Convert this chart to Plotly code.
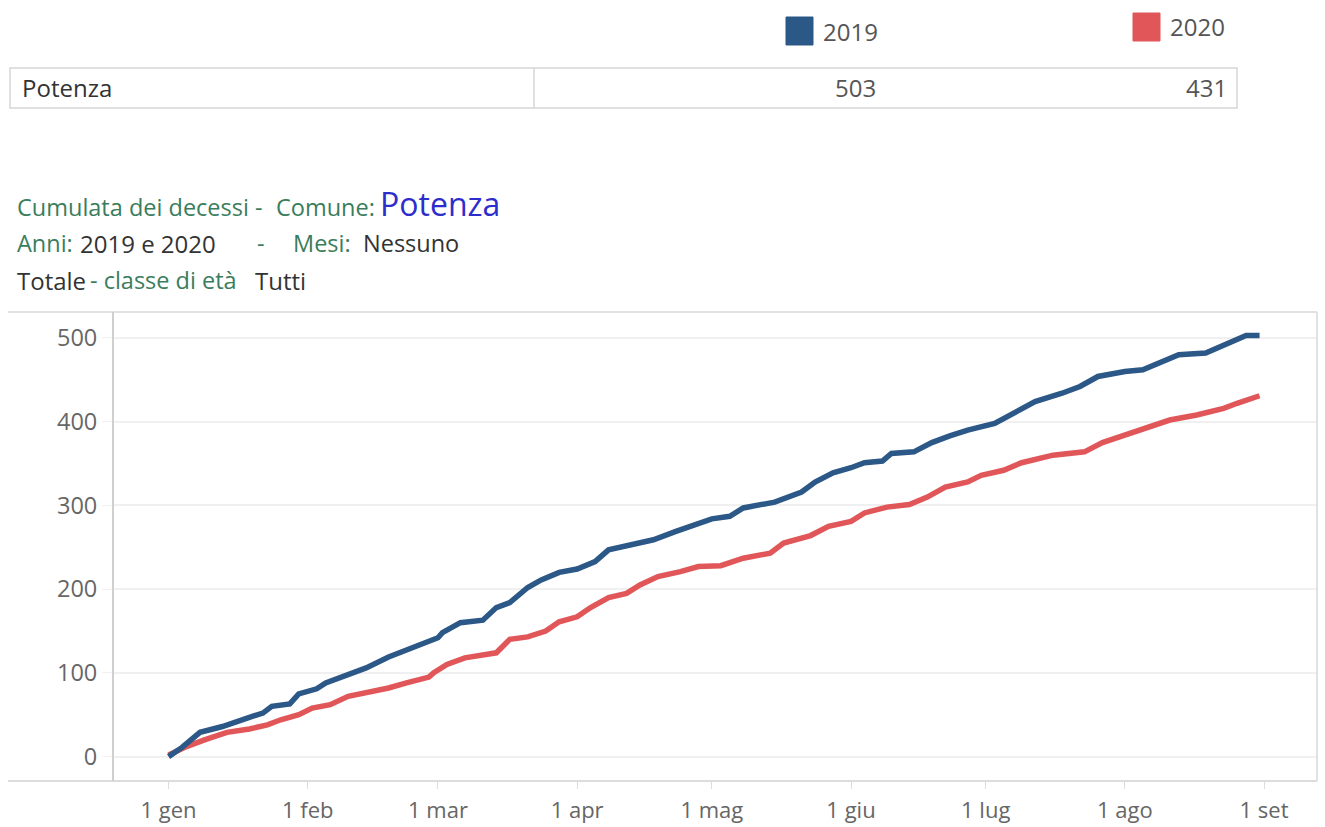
import plotly.graph_objects as go

# Cumulata dei decessi - Comune di Potenza (2019 vs 2020)
# asse x: giorno dell'anno, entrambe le serie sul calendario 2020
giorni_2019 = ["2020-01-01", "2020-01-04", "2020-01-08", "2020-01-13", "2020-01-19", "2020-01-22",
               "2020-01-24", "2020-01-28", "2020-01-30", "2020-02-03", "2020-02-05", "2020-02-10",
               "2020-02-14", "2020-02-19", "2020-02-23", "2020-02-27", "2020-03-01", "2020-03-02",
               "2020-03-06", "2020-03-11", "2020-03-14", "2020-03-17", "2020-03-21", "2020-03-24",
               "2020-03-28", "2020-04-01", "2020-04-05", "2020-04-08", "2020-04-12", "2020-04-18",
               "2020-04-23", "2020-04-27", "2020-05-01", "2020-05-05", "2020-05-08", "2020-05-15",
               "2020-05-21", "2020-05-24", "2020-05-28", "2020-06-01", "2020-06-04", "2020-06-08",
               "2020-06-10", "2020-06-15", "2020-06-19", "2020-06-23", "2020-06-27", "2020-07-03",
               "2020-07-08", "2020-07-12", "2020-07-18", "2020-07-22", "2020-07-26", "2020-08-01",
               "2020-08-05", "2020-08-09", "2020-08-13", "2020-08-19", "2020-08-24", "2020-08-28",
               "2020-08-31"]
decessi_2019 = [0, 11, 29, 36, 47, 52,
                60, 63, 75, 81, 88, 98,
                106, 119, 128, 136, 142, 148,
                160, 163, 178, 184, 202, 211,
                220, 224, 233, 247, 252, 259,
                269, 276, 284, 287, 297, 304,
                316, 328, 339, 345, 351, 353,
                362, 364, 375, 383, 390, 398,
                412, 424, 434, 442, 454, 460,
                462, 471, 480, 482, 494, 503,
                503]

giorni_2020 = ["2020-01-01", "2020-01-05", "2020-01-09", "2020-01-14", "2020-01-19", "2020-01-23",
               "2020-01-26", "2020-01-30", "2020-02-02", "2020-02-06", "2020-02-10", "2020-02-14",
               "2020-02-19", "2020-02-23", "2020-02-28", "2020-02-29", "2020-03-03", "2020-03-07",
               "2020-03-14", "2020-03-17", "2020-03-21", "2020-03-25", "2020-03-28", "2020-04-01",
               "2020-04-04", "2020-04-08", "2020-04-12", "2020-04-15", "2020-04-19", "2020-04-24",
               "2020-04-28", "2020-05-03", "2020-05-08", "2020-05-14", "2020-05-17", "2020-05-23",
               "2020-05-27", "2020-06-01", "2020-06-04", "2020-06-09", "2020-06-14", "2020-06-18",
               "2020-06-22", "2020-06-27", "2020-06-30", "2020-07-05", "2020-07-09", "2020-07-16",
               "2020-07-23", "2020-07-27", "2020-08-01", "2020-08-05", "2020-08-11", "2020-08-17",
               "2020-08-23", "2020-08-26", "2020-08-31"]
decessi_2020 = [2, 12, 20, 29, 33, 38,
                44, 50, 58, 62, 72, 76,
                82, 88, 95, 100, 110, 118,
                124, 140, 143, 150, 161, 167,
                178, 190, 195, 205, 215, 221,
                227, 228, 237, 243, 255, 264,
                275, 281, 291, 298, 301, 310,
                322, 328, 336, 342, 351, 360,
                364, 375, 384, 390, 402, 408,
                416, 422, 431]

anni = ["2019", "2020"]
totali = [503, 431]
comune = "Potenza"

tick_date = ["2020-01-01", "2020-02-01", "2020-03-01", "2020-04-01", "2020-05-01",
             "2020-06-01", "2020-07-01", "2020-08-01", "2020-09-01"]
tick_mesi = ["1 gen", "1 feb", "1 mar", "1 apr", "1 mag", "1 giu", "1 lug", "1 ago", "1 set"]
tick_y = [0, 100, 200, 300, 400, 500]

BLU = "#2b5886"
ROSSO = "#e15759"
VERDE = "#3a7d5d"
GRIGIO = "#666666"
SCURO = "#333333"
FONT = "Open Sans"

# area del grafico in pixel
W, H = 1325, 827
L, R, T, B = 113, 1317, 312, 781


def px(x):
    return (x - L) / (R - L)


def py(y):
    return (B - y) / (B - T)


fig = go.Figure()

fig.add_trace(go.Scatter(x=giorni_2020, y=decessi_2020, mode="lines", name=anni[1],
                         line=dict(color=ROSSO, width=5.5), showlegend=False))
fig.add_trace(go.Scatter(x=giorni_2019, y=decessi_2019, mode="lines", name=anni[0],
                         line=dict(color=BLU, width=5.5), showlegend=False))

shapes = []
# bordi area grafico
shapes.append(dict(type="line", xref="paper", yref="paper", x0=px(8), x1=px(R), y0=py(T), y1=py(T),
                   line=dict(color="#d9d9d9", width=1.5)))
shapes.append(dict(type="line", xref="paper", yref="paper", x0=px(R), x1=px(R), y0=py(T), y1=py(B),
                   line=dict(color="#d9d9d9", width=1.5)))
shapes.append(dict(type="line", xref="paper", yref="paper", x0=px(8), x1=px(R), y0=py(B), y1=py(B),
                   line=dict(color="#d0d0d0", width=1.5)))
shapes.append(dict(type="line", xref="paper", yref="paper", x0=px(L), x1=px(L), y0=py(T), y1=py(B),
                   line=dict(color="#cfcfcf", width=2)))
# linea dello zero tratteggiata
shapes.append(dict(type="line", xref="paper", yref="y", x0=0, x1=1, y0=0, y1=0, layer="below",
                   line=dict(color="#b5b5b5", width=1, dash="dot")))
# tabella totali
shapes.append(dict(type="rect", xref="paper", yref="paper", x0=px(10), x1=px(1237), y0=py(68), y1=py(108),
                   line=dict(color="#d6d6d6", width=1.5)))
shapes.append(dict(type="line", xref="paper", yref="paper", x0=px(534), x1=px(534), y0=py(68), y1=py(108),
                   line=dict(color="#d6d6d6", width=1.5)))
# legenda
shapes.append(dict(type="rect", xref="paper", yref="paper", x0=px(786), x1=px(813), y0=py(17), y1=py(45),
                   line=dict(color=BLU, width=1), fillcolor=BLU))
shapes.append(dict(type="rect", xref="paper", yref="paper", x0=px(1133), x1=px(1160), y0=py(13), y1=py(41),
                   line=dict(color=ROSSO, width=1), fillcolor=ROSSO))

annotations = []


def testo(x, y, t, size=23.5, color=SCURO, xanchor="left"):
    annotations.append(dict(x=px(x), y=py(y), xref="paper", yref="paper", text=t, showarrow=False,
                            xanchor=xanchor, yanchor="middle", font=dict(family=FONT, size=size, color=color)))


# legenda e tabella
testo(821, 31, anni[0], size=24, color="#555555")
testo(1168, 27, anni[1], size=24, color="#555555")
testo(20, 88, comune, size=24, color=SCURO)
testo(878, 88, str(totali[0]), size=24, color="#555555", xanchor="right")
testo(1229, 88, str(totali[1]), size=24, color="#555555", xanchor="right")

# titolo su tre righe
testo(15, 207, "Cumulata dei decessi -", color=VERDE)
testo(274, 207, "Comune:", color=VERDE)
testo(378, 203, comune, size=32, color="#2d2dcc")
testo(15, 243, "Anni:", color=VERDE)
testo(78, 243, "2019 e 2020", size=24, color=SCURO)
testo(255, 243, "-", color=VERDE)
testo(291, 243, "Mesi:", color=VERDE)
testo(361, 243, "Nessuno", color=SCURO)
testo(15, 280, "Totale", size=24, color=SCURO)
testo(88, 280, "- classe di età", color=VERDE)
testo(253, 280, "Tutti", size=24, color=SCURO)

fig.update_layout(
    width=W, height=H,
    margin=dict(l=L, r=W - R, t=T, b=H - B, pad=0),
    plot_bgcolor="white", paper_bgcolor="white",
    font=dict(family=FONT, size=22, color=GRIGIO),
    shapes=shapes,
    annotations=annotations,
    showlegend=False,
    xaxis=dict(
        type="date",
        range=["2019-12-19 15:00", "2020-09-12 19:00"],
        tickvals=tick_date, ticktext=tick_mesi,
        showgrid=False, zeroline=False, showline=False,
        ticks="outside", ticklen=7, tickwidth=1, tickcolor="#dddddd",
        ticklabelstandoff=3,
        automargin=False,
        tickfont=dict(family=FONT, size=22, color=GRIGIO),
    ),
    yaxis=dict(
        range=[-29.1, 531],
        tickvals=tick_y,
        showgrid=True, gridcolor="#f0f0f0", gridwidth=1.5,
        zeroline=False, showline=False,
        ticks="outside", ticklen=10, tickcolor="#f0f0f0",
        ticklabelstandoff=0,
        automargin=False,
        tickfont=dict(family=FONT, size=23.5, color=GRIGIO),
    ),
)

fig.write_html("out.html", config={"displayModeBar": False},
               post_script="document.body.style.margin='0';")
